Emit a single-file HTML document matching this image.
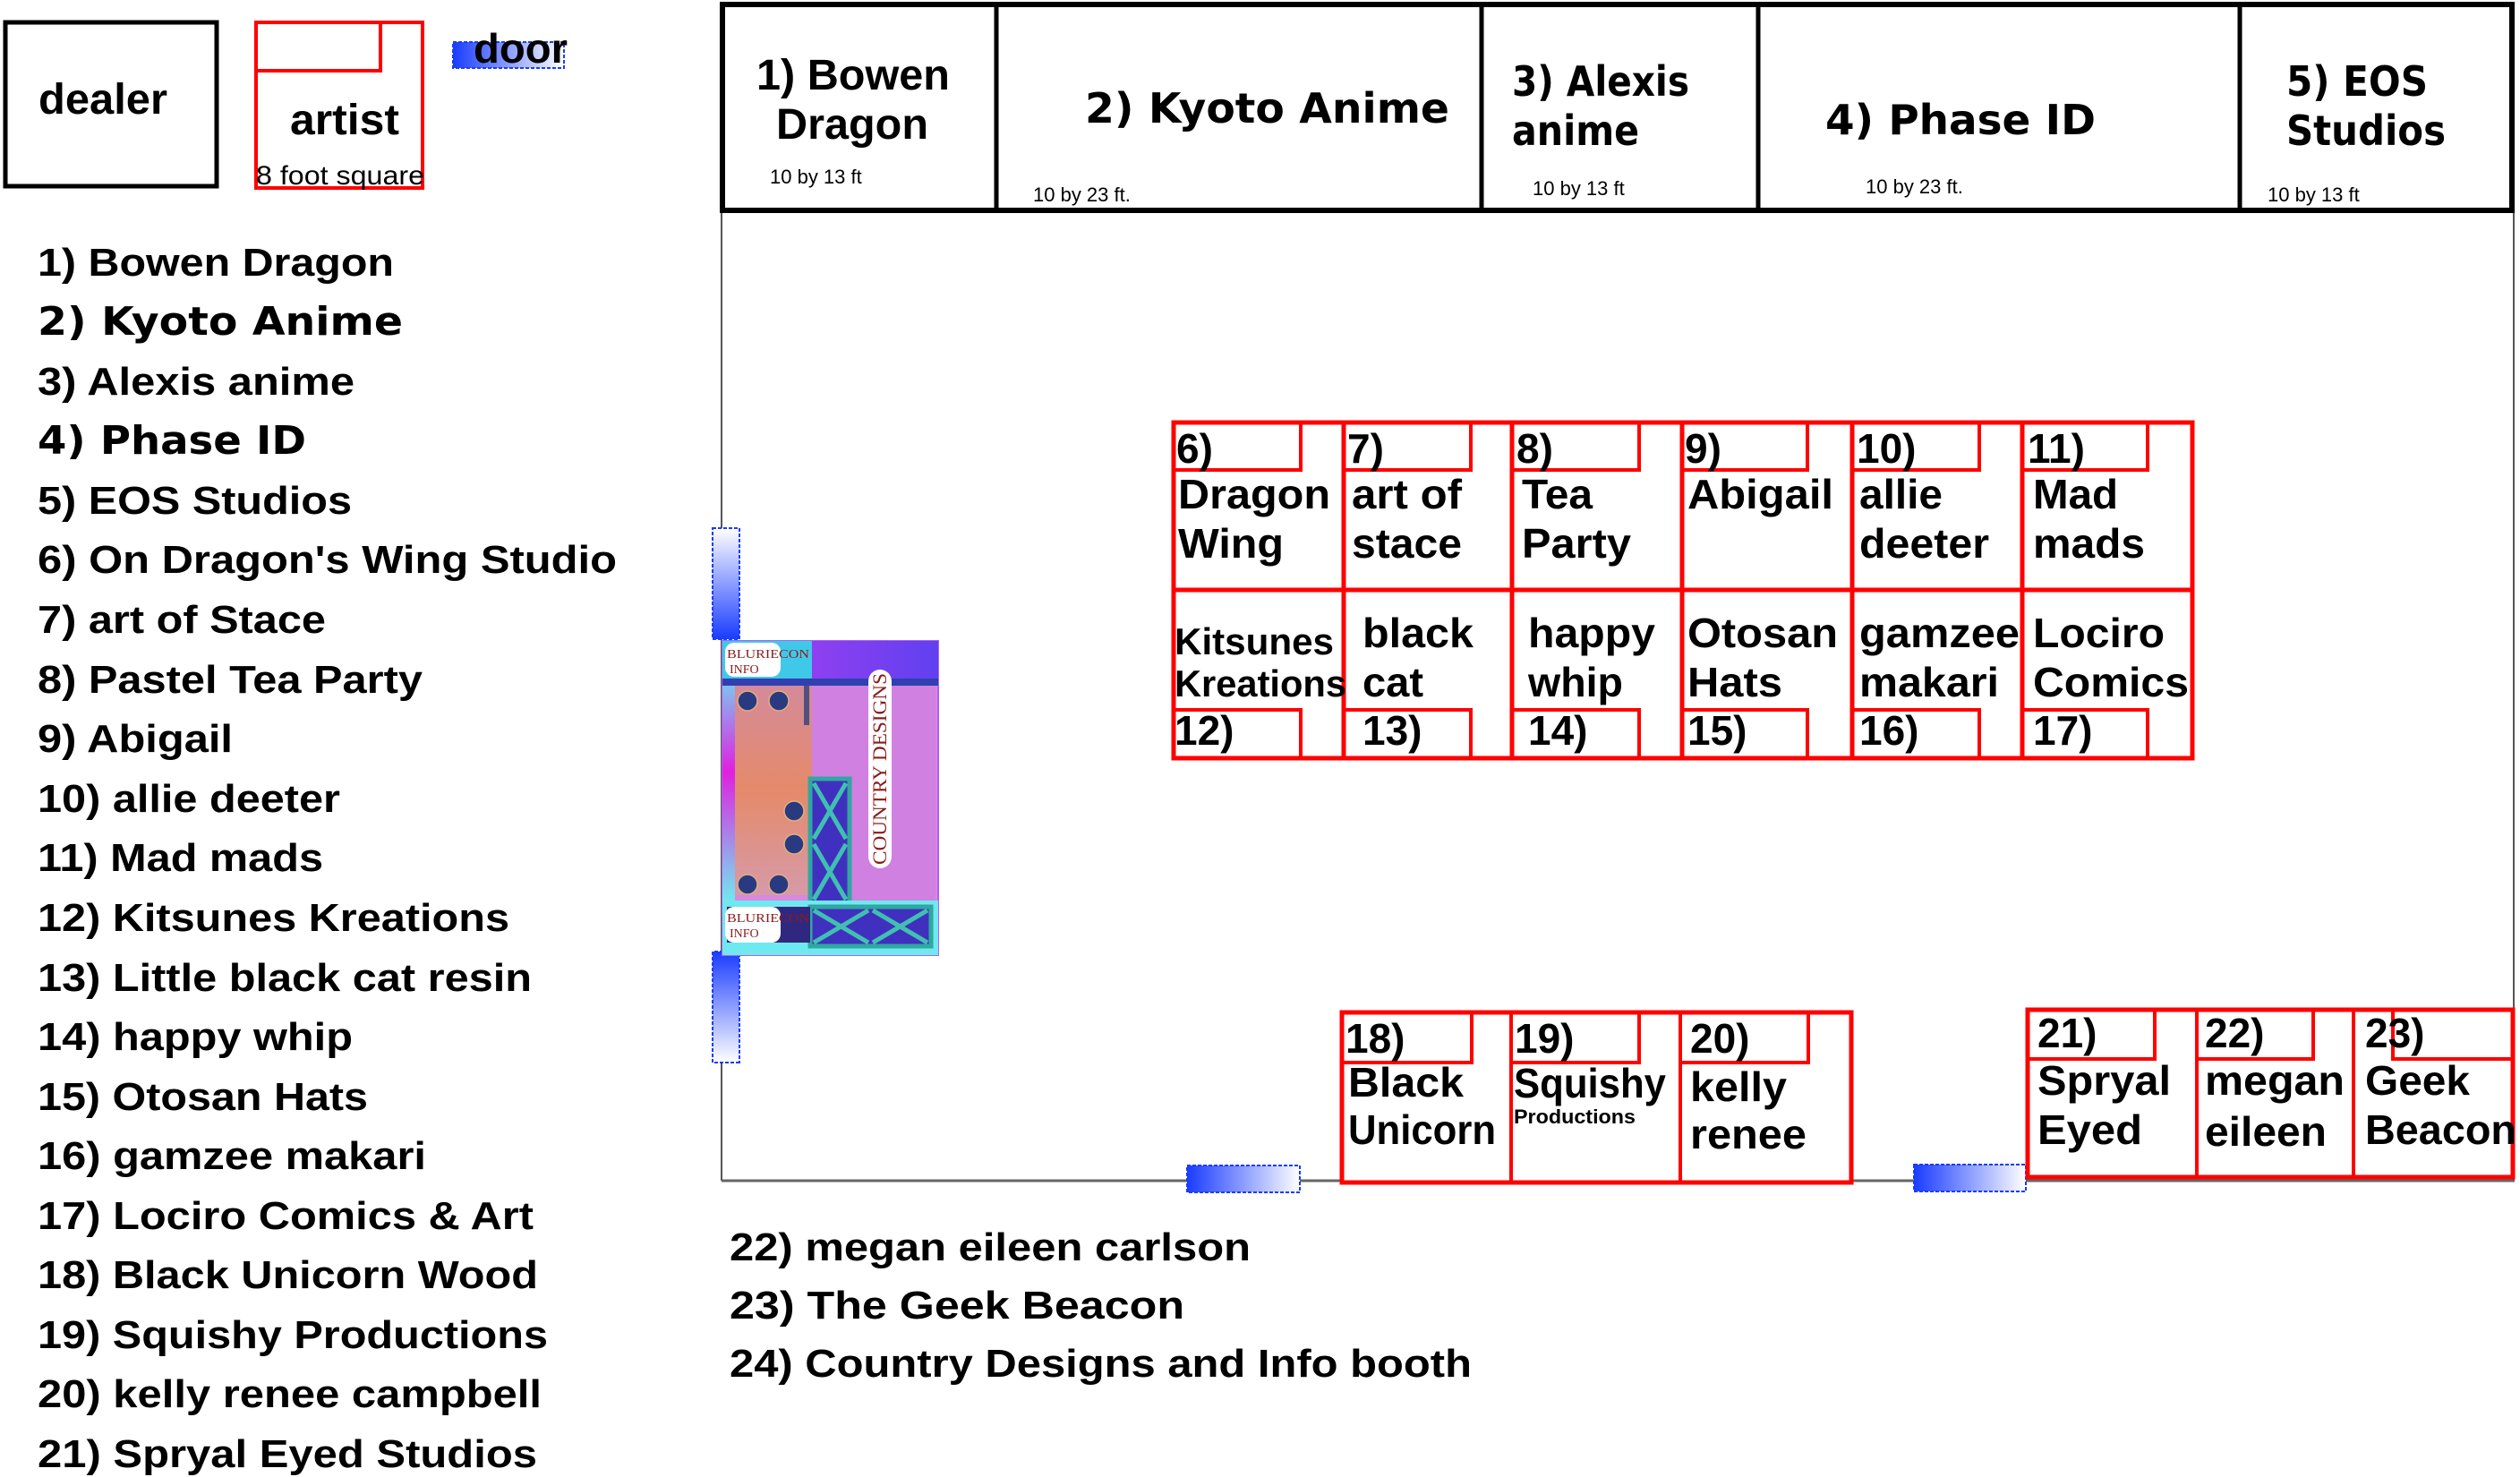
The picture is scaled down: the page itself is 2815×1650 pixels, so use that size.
<!DOCTYPE html>
<html><head><meta charset="utf-8"><style>
html,body{margin:0;padding:0;background:#fff;}
svg{display:block;}
text{font-family:"Liberation Sans",Arial,sans-serif;font-weight:bold;fill:#000;}
.d{font-family:"DejaVu Sans","Liberation Sans",sans-serif;}
.n{font-weight:normal;}
</style></head><body>
<svg width="2815" height="1650" viewBox="0 0 2815 1650" xmlns="http://www.w3.org/2000/svg">
<defs>
<linearGradient id="gh" x1="0" y1="0" x2="1" y2="0"><stop offset="0" stop-color="#1a3cff"/><stop offset="1" stop-color="#ffffff"/></linearGradient>
<linearGradient id="gv" x1="0" y1="1" x2="0" y2="0"><stop offset="0" stop-color="#1a3cff"/><stop offset="1" stop-color="#ffffff"/></linearGradient>
<linearGradient id="og" x1="0" y1="0" x2="0" y2="1"><stop offset="0" stop-color="#d48a9a"/><stop offset=".5" stop-color="#e58a6a"/><stop offset="1" stop-color="#d69aa8"/></linearGradient>
<linearGradient id="pg" x1="0" y1="0" x2="1" y2="0"><stop offset="0" stop-color="#b040f0"/><stop offset="1" stop-color="#6040f0"/></linearGradient>
<linearGradient id="lg" x1="0" y1="0" x2="0" y2="1"><stop offset="0" stop-color="#80c0f0"/><stop offset=".4" stop-color="#e020e0"/><stop offset="1" stop-color="#70e8f0"/></linearGradient>
</defs>

<!-- legend -->
<rect x="6" y="25" width="236" height="183" fill="none" stroke="#000" stroke-width="5"/>
<text x="43" y="127" font-size="48" textLength="144" lengthAdjust="spacingAndGlyphs">dealer</text>
<rect x="286" y="25" width="186" height="185" fill="none" stroke="#f00" stroke-width="4"/>
<rect x="286" y="25" width="139" height="54" fill="none" stroke="#f00" stroke-width="4"/>
<text x="324" y="150" font-size="48" textLength="122" lengthAdjust="spacingAndGlyphs">artist</text>
<text class="n" x="286" y="206" font-size="30" textLength="188" lengthAdjust="spacingAndGlyphs">8 foot square</text>
<rect x="506" y="47" width="124" height="29" fill="url(#gh)" stroke="#1a3cff" stroke-width="2" stroke-dasharray="4 2"/>
<text x="529" y="70" font-size="46" textLength="105" lengthAdjust="spacingAndGlyphs">door</text>

<!-- left list -->
<g font-size="44">
<text x="42" y="308" textLength="398" lengthAdjust="spacingAndGlyphs">1) Bowen Dragon</text>
<text class="d" x="42" y="374" textLength="408" lengthAdjust="spacingAndGlyphs">2) Kyoto Anime</text>
<text x="42" y="441" textLength="354" lengthAdjust="spacingAndGlyphs">3) Alexis anime</text>
<text class="d" x="42" y="507" textLength="300" lengthAdjust="spacingAndGlyphs">4) Phase ID</text>
<text x="42" y="574" textLength="351" lengthAdjust="spacingAndGlyphs">5) EOS Studios</text>
<text x="42" y="640" textLength="647" lengthAdjust="spacingAndGlyphs">6) On Dragon's Wing Studio</text>
<text x="42" y="707" textLength="322" lengthAdjust="spacingAndGlyphs">7) art of Stace</text>
<text x="42" y="774" textLength="430" lengthAdjust="spacingAndGlyphs">8) Pastel Tea Party</text>
<text x="42" y="840" textLength="218" lengthAdjust="spacingAndGlyphs">9) Abigail</text>
<text x="42" y="907" textLength="338" lengthAdjust="spacingAndGlyphs">10) allie deeter</text>
<text x="42" y="973" textLength="319" lengthAdjust="spacingAndGlyphs">11) Mad mads</text>
<text x="42" y="1040" textLength="527" lengthAdjust="spacingAndGlyphs">12) Kitsunes Kreations</text>
<text x="42" y="1107" textLength="552" lengthAdjust="spacingAndGlyphs">13) Little black cat resin</text>
<text x="42" y="1173" textLength="352" lengthAdjust="spacingAndGlyphs">14) happy whip</text>
<text x="42" y="1240" textLength="369" lengthAdjust="spacingAndGlyphs">15) Otosan Hats</text>
<text x="42" y="1306" textLength="434" lengthAdjust="spacingAndGlyphs">16) gamzee makari</text>
<text x="42" y="1373" textLength="554" lengthAdjust="spacingAndGlyphs">17) Lociro Comics &amp; Art</text>
<text x="42" y="1439" textLength="559" lengthAdjust="spacingAndGlyphs">18) Black Unicorn Wood</text>
<text x="42" y="1506" textLength="570" lengthAdjust="spacingAndGlyphs">19) Squishy Productions</text>
<text x="42" y="1572" textLength="563" lengthAdjust="spacingAndGlyphs">20) kelly renee campbell</text>
<text x="42" y="1639" textLength="558" lengthAdjust="spacingAndGlyphs">21) Spryal Eyed Studios</text>
<text x="815" y="1408" textLength="582" lengthAdjust="spacingAndGlyphs">22) megan eileen carlson</text>
<text x="815" y="1473" textLength="508" lengthAdjust="spacingAndGlyphs">23) The Geek  Beacon</text>
<text x="815" y="1538" textLength="829" lengthAdjust="spacingAndGlyphs">24) Country Designs and Info booth</text>
</g>

<!-- room outline -->
<line x1="806" y1="237" x2="806" y2="1319" stroke="#555" stroke-width="2"/>
<line x1="806" y1="1319" x2="2809" y2="1319" stroke="#666" stroke-width="3"/>
<line x1="2808" y1="237" x2="2808" y2="1319" stroke="#555" stroke-width="2"/>

<!-- top booths -->
<rect x="807" y="5" width="1999" height="230" fill="#fff" stroke="#000" stroke-width="6"/>
<g stroke="#000" stroke-width="5"><line x1="1113" y1="5" x2="1113" y2="235"/><line x1="1655" y1="5" x2="1655" y2="235"/><line x1="1964" y1="5" x2="1964" y2="235"/><line x1="2502" y1="5" x2="2502" y2="235"/></g>
<g font-size="48">
<text x="845" y="100" textLength="216" lengthAdjust="spacingAndGlyphs">1) Bowen</text>
<text x="867" y="155" textLength="170" lengthAdjust="spacingAndGlyphs">Dragon</text>
<text class="d" x="1212" y="137" font-size="46" textLength="407" lengthAdjust="spacingAndGlyphs">2) Kyoto Anime</text>
<text class="d" x="1689" y="107" font-size="46" textLength="198" lengthAdjust="spacingAndGlyphs">3) Alexis</text>
<text class="d" x="1689" y="162" font-size="46" textLength="142" lengthAdjust="spacingAndGlyphs">anime</text>
<text class="d" x="2039" y="150" font-size="46" textLength="302" lengthAdjust="spacingAndGlyphs">4) Phase ID</text>
<text class="d" x="2554" y="107" font-size="46" textLength="158" lengthAdjust="spacingAndGlyphs">5) EOS</text>
<text class="d" x="2554" y="162" font-size="46" textLength="178" lengthAdjust="spacingAndGlyphs">Studios</text>
</g>
<g font-size="22" class="n">
<text class="n" x="860" y="205">10 by 13 ft</text>
<text class="n" x="1154" y="225">10 by 23 ft.</text>
<text class="n" x="1712" y="218">10 by 13 ft</text>
<text class="n" x="2084" y="216">10 by 23 ft.</text>
<text class="n" x="2533" y="225">10 by 13 ft</text>
</g>

<!-- grid 6-17 -->
<g fill="none" stroke="#f00" stroke-width="5">
<rect x="1311" y="472" width="1138" height="375"/>
<line x1="1311" y1="659" x2="2449" y2="659"/>
<line x1="1501" y1="472" x2="1501" y2="847"/><line x1="1689" y1="472" x2="1689" y2="847"/><line x1="1879" y1="472" x2="1879" y2="847"/><line x1="2069" y1="472" x2="2069" y2="847"/><line x1="2259" y1="472" x2="2259" y2="847"/>
</g>
<g fill="none" stroke="#f00" stroke-width="4">
<rect x="1311" y="472" width="142" height="53"/><rect x="1501" y="472" width="142" height="53"/><rect x="1689" y="472" width="142" height="53"/><rect x="1879" y="472" width="140" height="53"/><rect x="2069" y="472" width="142" height="53"/><rect x="2259" y="472" width="140" height="53"/>
<rect x="1311" y="793" width="142" height="54"/><rect x="1501" y="793" width="142" height="54"/><rect x="1689" y="793" width="142" height="54"/><rect x="1879" y="793" width="140" height="54"/><rect x="2069" y="793" width="142" height="54"/><rect x="2259" y="793" width="140" height="54"/>
</g>
<g font-size="46">
<text x="1314" y="517">6)</text><text x="1505" y="517">7)</text><text x="1694" y="517">8)</text><text x="1882" y="517">9)</text><text x="2074" y="517">10)</text><text x="2265" y="517">11)</text>
<text x="1316" y="568" textLength="170" lengthAdjust="spacingAndGlyphs">Dragon</text>
<text x="1316" y="623" textLength="118" lengthAdjust="spacingAndGlyphs">Wing</text>
<text x="1510" y="568" textLength="123" lengthAdjust="spacingAndGlyphs">art of</text>
<text x="1510" y="623" textLength="123" lengthAdjust="spacingAndGlyphs">stace</text>
<text x="1700" y="568" textLength="79" lengthAdjust="spacingAndGlyphs">Tea</text>
<text x="1700" y="623" textLength="122" lengthAdjust="spacingAndGlyphs">Party</text>
<text x="1885" y="568" textLength="163" lengthAdjust="spacingAndGlyphs">Abigail</text>
<text x="2077" y="568" textLength="93" lengthAdjust="spacingAndGlyphs">allie</text>
<text x="2077" y="623" textLength="145" lengthAdjust="spacingAndGlyphs">deeter</text>
<text x="2271" y="568" textLength="95" lengthAdjust="spacingAndGlyphs">Mad</text>
<text x="2271" y="623" textLength="125" lengthAdjust="spacingAndGlyphs">mads</text>
<text x="1312" y="731" font-size="42" textLength="178" lengthAdjust="spacingAndGlyphs">Kitsunes</text>
<text x="1312" y="778" font-size="42" textLength="192" lengthAdjust="spacingAndGlyphs">Kreations</text>
<text x="1522" y="723" textLength="124" lengthAdjust="spacingAndGlyphs">black</text>
<text x="1522" y="778" textLength="68" lengthAdjust="spacingAndGlyphs">cat</text>
<text x="1707" y="723" textLength="142" lengthAdjust="spacingAndGlyphs">happy</text>
<text x="1707" y="778" textLength="106" lengthAdjust="spacingAndGlyphs">whip</text>
<text x="1885" y="723" textLength="168" lengthAdjust="spacingAndGlyphs">Otosan</text>
<text x="1885" y="778" textLength="106" lengthAdjust="spacingAndGlyphs">Hats</text>
<text x="2077" y="723" textLength="179" lengthAdjust="spacingAndGlyphs">gamzee</text>
<text x="2077" y="778" textLength="156" lengthAdjust="spacingAndGlyphs">makari</text>
<text x="2271" y="723" textLength="147" lengthAdjust="spacingAndGlyphs">Lociro</text>
<text x="2271" y="778" textLength="174" lengthAdjust="spacingAndGlyphs">Comics</text>
<text x="1312" y="832">12)</text><text x="1522" y="832">13)</text><text x="1707" y="832">14)</text><text x="1885" y="832">15)</text><text x="2077" y="832">16)</text><text x="2271" y="832">17)</text>
</g>

<!-- doors -->
<rect x="796" y="590" width="30" height="124" fill="url(#gv)" stroke="#1a3cff" stroke-width="2" stroke-dasharray="4 2"/>
<rect x="796" y="1063" width="30" height="124" fill="url(#gv)" stroke="#1a3cff" stroke-width="2" stroke-dasharray="4 2" transform="rotate(180 811 1125)"/>
<rect x="1326" y="1302" width="126" height="30" fill="url(#gh)" stroke="#1a3cff" stroke-width="2" stroke-dasharray="4 2"/>
<rect x="2138" y="1301" width="125" height="30" fill="url(#gh)" stroke="#1a3cff" stroke-width="2" stroke-dasharray="4 2"/>

<!-- bottom booths 18-20 -->
<rect x="1499" y="1131" width="569" height="190" fill="#fff" stroke="#f00" stroke-width="5"/>
<g fill="none" stroke="#f00" stroke-width="4">
<line x1="1688" y1="1131" x2="1688" y2="1321"/><line x1="1877" y1="1131" x2="1877" y2="1321"/>
<rect x="1499" y="1131" width="145" height="56"/><rect x="1688" y="1131" width="143" height="56"/><rect x="1877" y="1131" width="143" height="56"/>
</g>
<g font-size="46">
<text x="1503" y="1176">18)</text><text x="1692" y="1176">19)</text><text x="1888" y="1176">20)</text>
<text x="1506" y="1225" textLength="129" lengthAdjust="spacingAndGlyphs">Black</text>
<text x="1506" y="1278" textLength="165" lengthAdjust="spacingAndGlyphs">Unicorn</text>
<text x="1691" y="1226" textLength="170" lengthAdjust="spacingAndGlyphs">Squishy</text>
<text x="1691" y="1255" font-size="22" textLength="136" lengthAdjust="spacingAndGlyphs">Productions</text>
<text x="1888" y="1230" textLength="108" lengthAdjust="spacingAndGlyphs">kelly</text>
<text x="1888" y="1283" textLength="130" lengthAdjust="spacingAndGlyphs">renee</text>
</g>

<!-- 21-23 -->
<rect x="2265" y="1128" width="542" height="187" fill="#fff" stroke="#f00" stroke-width="5"/>
<g fill="none" stroke="#f00" stroke-width="4">
<line x1="2454" y1="1128" x2="2454" y2="1315"/><line x1="2629" y1="1128" x2="2629" y2="1315"/>
<rect x="2265" y="1128" width="142" height="55"/><rect x="2454" y="1128" width="130" height="55"/><rect x="2673" y="1128" width="134" height="55"/>
</g>
<g font-size="46">
<text x="2276" y="1170">21)</text><text x="2463" y="1170">22)</text><text x="2642" y="1170">23)</text>
<text x="2276" y="1223" textLength="149" lengthAdjust="spacingAndGlyphs">Spryal</text>
<text x="2276" y="1278" textLength="117" lengthAdjust="spacingAndGlyphs">Eyed</text>
<text x="2463" y="1223" textLength="156" lengthAdjust="spacingAndGlyphs">megan</text>
<text x="2463" y="1280" textLength="136" lengthAdjust="spacingAndGlyphs">eileen</text>
<text x="2642" y="1223" textLength="117" lengthAdjust="spacingAndGlyphs">Geek</text>
<text x="2642" y="1278" textLength="169" lengthAdjust="spacingAndGlyphs">Beacon</text>
</g>

<!-- Country Designs picture -->
<g>
<rect x="807" y="716" width="241" height="351" fill="#d888e0" stroke="#b060f0" stroke-width="2"/>
<rect x="807" y="716" width="241" height="48" fill="url(#pg)"/>
<rect x="807" y="716" width="100" height="48" fill="#40c8e8"/>
<rect x="807" y="758" width="241" height="8" fill="#3040b0"/>
<rect x="807" y="766" width="14" height="240" fill="url(#lg)"/>
<rect x="821" y="766" width="86" height="234" fill="url(#og)"/>
<rect x="907" y="766" width="138" height="240" fill="#d080e0"/>
<rect x="898" y="766" width="6" height="44" fill="#505080"/>
<rect x="905" y="870" width="44" height="140" fill="#4030c0" stroke="#30a8a0" stroke-width="5"/>
<path d="M909 875 L945 937 M945 875 L909 937 M909 943 L945 1005 M945 943 L909 1005" stroke="#40c0b0" stroke-width="5"/>
<rect x="807" y="1006" width="241" height="61" fill="#70e8f0"/>
<rect x="905" y="1013" width="135" height="44" fill="#4030c0" stroke="#30a8a0" stroke-width="5"/>
<path d="M909 1017 L970 1053 M970 1017 L909 1053 M975 1017 L1036 1053 M1036 1017 L975 1053" stroke="#40c0b0" stroke-width="5"/>
<rect x="812" y="1013" width="93" height="40" fill="#302880"/>
<g fill="#2a3a80" stroke="#e0b080" stroke-width="1.5">
<circle cx="835" cy="783" r="11"/><circle cx="870" cy="783" r="11"/><circle cx="887" cy="906" r="11"/><circle cx="887" cy="943" r="11"/><circle cx="835" cy="988" r="11"/><circle cx="870" cy="988" r="11"/>
</g>
<rect x="810" y="718" width="62" height="38" rx="10" fill="#fff"/>
<text class="n" x="812" y="735" font-size="14" style="font-family:'Liberation Serif',serif;fill:#8b1a1a" textLength="92" lengthAdjust="spacingAndGlyphs">BLURIECON</text>
<text class="n" x="815" y="752" font-size="14" style="font-family:'Liberation Serif',serif;fill:#8b1a1a">INFO</text>
<rect x="810" y="1013" width="62" height="40" rx="10" fill="#fff"/>
<text class="n" x="812" y="1030" font-size="14" style="font-family:'Liberation Serif',serif;fill:#8b1a1a" textLength="92" lengthAdjust="spacingAndGlyphs">BLURIECON</text>
<text class="n" x="815" y="1047" font-size="14" style="font-family:'Liberation Serif',serif;fill:#8b1a1a">INFO</text>
<rect x="970" y="748" width="26" height="222" rx="13" fill="#fff"/>
<text class="n" transform="translate(990 966) rotate(-90)" font-size="22" style="font-family:'Liberation Serif',serif;fill:#8b1a1a" textLength="214" lengthAdjust="spacingAndGlyphs">COUNTRY DESIGNS</text>
</g>
</svg>
</body></html>
